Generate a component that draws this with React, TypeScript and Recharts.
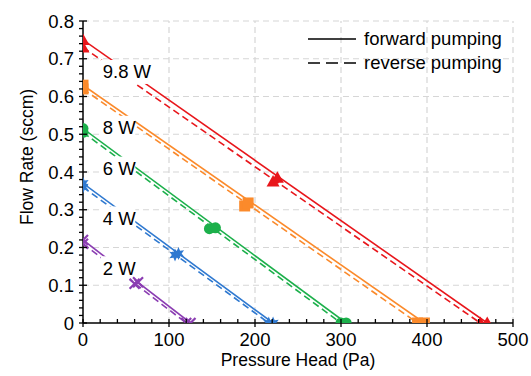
import React from 'react';
import { ComposedChart, Line, Scatter, XAxis, YAxis, ReferenceLine, ReferenceDot, Legend, Label } from 'recharts';

const FONT = '"Liberation Sans", Arial, sans-serif';

const POWERS = ['9.8 W', '8 W', '6 W', '4 W', '2 W'];
const COLORS = ['#e8161b', '#fb8a2b', '#1cb04b', '#2f79d0', '#8b3db2'];
const MARKERS = ['triangle', 'square', 'circle', 'star', 'cross'];

// linear fits: flow at zero head and head at zero flow
const FWD_FLOW0 = [0.75, 0.63, 0.515, 0.37, 0.22];
const FWD_HEAD0 = [470, 397, 306, 221, 125];
const REV_FLOW0 = [0.73, 0.62, 0.505, 0.36, 0.21];
const REV_HEAD0 = [462, 389, 300, 216, 120];

// measured points (head in Pa, flow in sccm)
const FWD_HEAD = [[0, 226, 470], [0, 192, 397], [0, 154, 306], [0, 111, 221], [0, 64, 125]];
const FWD_FLOW = [[0.75, 0.385, 0], [0.63, 0.318, 0], [0.515, 0.252, 0], [0.37, 0.184, 0], [0.22, 0.108, 0]];
const REV_HEAD = [[0, 221, 462], [0, 188, 389], [0, 147, 300], [0, 107, 216], [0, 60, 120]];
const REV_FLOW = [[0.73, 0.375, 0], [0.62, 0.31, 0], [0.505, 0.25, 0], [0.36, 0.18, 0], [0.21, 0.104, 0]];

// where the power labels sit
const LABEL_HEAD = [23, 23, 23, 23, 23];
const LABEL_FLOW = [0.665, 0.517, 0.409, 0.277, 0.145];

const X_TICKS = [0, 100, 200, 300, 400, 500];
const Y_TICKS = [0, 0.1, 0.2, 0.3, 0.4, 0.5, 0.6, 0.7, 0.8];

const withMinor = (major: number[]) => {
  const out: number[] = [];
  for (let i = 0; i < major.length - 1; i++) {
    for (let k = 0; k < 5; k++) out.push(Number((major[i] + ((major[i + 1] - major[i]) * k) / 5).toFixed(4)));
  }
  out.push(major[major.length - 1]);
  return out;
};
const isMajor = (list: number[], v: number) => list.some((m) => Math.abs(m - v) < 1e-6);

const toPoints = (xs: number[], ys: number[]) => xs.map((x, i) => ({ x, y: ys[i] }));

const XTick = ({ x, y, payload }: any) => {
  const major = isMajor(X_TICKS, payload.value);
  return (
    <g>
      <line x1={x} x2={x} y1={major ? y + 4 : y} y2={y - 4} stroke="#000" strokeWidth={1.3} />
      {major && (
        <text x={x} y={y + 23} textAnchor="middle" fontSize={18.5} fontFamily={FONT} fill="#000">
          {payload.value}
        </text>
      )}
    </g>
  );
};

const YTick = ({ x, y, payload }: any) => {
  const major = isMajor(Y_TICKS, payload.value);
  return (
    <g>
      <line x1={x - 4} x2={major ? x + 4 : x} y1={y} y2={y} stroke="#000" strokeWidth={1.3} />
      {major && (
        <text x={x - 9} y={y + 6.5} textAnchor="end" fontSize={18.5} fontFamily={FONT} fill="#000">
          {payload.value}
        </text>
      )}
    </g>
  );
};

const Marker = ({ cx, cy, fill, kind }: any) => {
  if (cx == null || cy == null) return null;
  switch (kind) {
    case 'triangle':
      return <path d={`M${cx},${cy - 6.5} L${cx + 6.5},${cy + 5} L${cx - 6.5},${cy + 5} Z`} fill={fill} />;
    case 'square':
      return <rect x={cx - 5.5} y={cy - 5.5} width={11} height={11} fill={fill} />;
    case 'circle':
      return <circle cx={cx} cy={cy} r={5.5} fill={fill} />;
    case 'star': {
      const pts: string[] = [];
      for (let i = 0; i < 12; i++) {
        const r = i % 2 === 0 ? 6.5 : 3.2;
        const a = -Math.PI / 2 + (i * Math.PI) / 6;
        pts.push(`${cx + r * Math.cos(a)},${cy + r * Math.sin(a)}`);
      }
      return <polygon points={pts.join(' ')} fill={fill} />;
    }
    default:
      return (
        <path
          d={`M${cx - 5},${cy - 5} L${cx + 5},${cy + 5} M${cx + 5},${cy - 5} L${cx - 5},${cy + 5}`}
          stroke={fill}
          strokeWidth={2.2}
        />
      );
  }
};

const PowerLabel = ({ cx, cy, text }: any) => {
  const w = text.length * 10.5 + 3;
  return (
    <g>
      <rect x={cx - 2} y={cy - 12} width={w} height={24} fill="#fff" />
      <text x={cx} y={cy + 6.5} fontSize={18.5} fontFamily={FONT} fill="#000">
        {text}
      </text>
    </g>
  );
};

const PumpLegend = () => (
  <div style={{ fontFamily: FONT, fontSize: 18.5, color: '#000', lineHeight: '24px' }}>
    {[
      { name: 'forward pumping', dash: undefined },
      { name: 'reverse pumping', dash: '12 6' },
    ].map((item) => (
      <div key={item.name} style={{ display: 'flex', alignItems: 'center' }}>
        <svg width={58} height={24}>
          <line x1={2} x2={50} y1={12} y2={12} stroke="#000" strokeWidth={1.3} strokeDasharray={item.dash} />
        </svg>
        <span>{item.name}</span>
      </div>
    ))}
  </div>
);

const YTitle = ({ viewBox }: any) => {
  const cx = viewBox.x + 10;
  const cy = viewBox.y + viewBox.height / 2 - 15;
  return (
    <text x={cx} y={cy} transform={`rotate(-90 ${cx} ${cy})`} textAnchor="middle" fontSize={17.5} fontFamily={FONT} fill="#000">
      Flow Rate (sccm)
    </text>
  );
};

export default function App() {
  return (
    <div style={{ position: 'absolute', left: 0, top: 0, background: '#fff' }}>
      <ComposedChart width={531} height={376} margin={{ top: 21, right: 18, bottom: 8, left: 23 }}>
        <XAxis
          type="number"
          dataKey="x"
          domain={[0, 500]}
          ticks={withMinor(X_TICKS)}
          interval={0}
          height={45}
          tickSize={0}
          tickMargin={0}
          tickLine={false}
          tick={<XTick />}
          axisLine={{ stroke: '#000', strokeWidth: 1.5 }}
          allowDataOverflow
        >
          <Label value="Pressure Head (Pa)" position="insideBottom" offset={2} fontSize={17.5} fontFamily={FONT} fill="#000" />
        </XAxis>
        <YAxis
          type="number"
          dataKey="y"
          domain={[0, 0.8]}
          ticks={withMinor(Y_TICKS)}
          interval={0}
          width={60}
          tickSize={0}
          tickMargin={0}
          tickLine={false}
          tick={<YTick />}
          axisLine={{ stroke: '#000', strokeWidth: 1.5 }}
          allowDataOverflow
        >
          <Label content={<YTitle />} />
        </YAxis>
        {X_TICKS.slice(1).map((v) => (
          <ReferenceLine key={`gx${v}`} x={v} stroke="#d6d6d6" strokeWidth={1.2} strokeDasharray="6 4" />
        ))}
        {Y_TICKS.slice(1).map((v) => (
          <ReferenceLine key={`gy${v}`} y={v} stroke="#d6d6d6" strokeWidth={1.2} strokeDasharray="6 4" />
        ))}
        {POWERS.map((p, i) => (
          <Line
            key={`f${p}`}
            data={[{ x: 0, y: FWD_FLOW0[i] }, { x: FWD_HEAD0[i], y: 0 }]}
            dataKey="y"
            type="linear"
            stroke={COLORS[i]}
            strokeWidth={1.6}
            dot={false}
            activeDot={false}
            isAnimationActive={false}
          />
        ))}
        {POWERS.map((p, i) => (
          <Line
            key={`r${p}`}
            data={[{ x: 0, y: REV_FLOW0[i] }, { x: REV_HEAD0[i], y: 0 }]}
            dataKey="y"
            type="linear"
            stroke={COLORS[i]}
            strokeWidth={1.6}
            strokeDasharray="7 4"
            dot={false}
            activeDot={false}
            isAnimationActive={false}
          />
        ))}
        {POWERS.map((p, i) => (
          <ReferenceDot
            key={`l${p}`}
            x={LABEL_HEAD[i]}
            y={LABEL_FLOW[i]}
            ifOverflow="visible"
            shape={(props: any) => <PowerLabel {...props} text={p} />}
          />
        ))}
        {POWERS.map((p, i) => (
          <Scatter
            key={`mr${p}`}
            data={toPoints(REV_HEAD[i], REV_FLOW[i])}
            dataKey="y"
            fill={COLORS[i]}
            isAnimationActive={false}
            shape={(props: any) => <Marker {...props} fill={COLORS[i]} kind={MARKERS[i]} />}
          />
        ))}
        {POWERS.map((p, i) => (
          <Scatter
            key={`mf${p}`}
            data={toPoints(FWD_HEAD[i], FWD_FLOW[i])}
            dataKey="y"
            fill={COLORS[i]}
            isAnimationActive={false}
            shape={(props: any) => <Marker {...props} fill={COLORS[i]} kind={MARKERS[i]} />}
          />
        ))}
        <Legend
          layout="horizontal"
          verticalAlign="middle"
          align="center"
          content={<PumpLegend />}
          wrapperStyle={{ position: 'absolute', top: 27, left: 306, width: 'auto' }}
        />
      </ComposedChart>
    </div>
  );
}
